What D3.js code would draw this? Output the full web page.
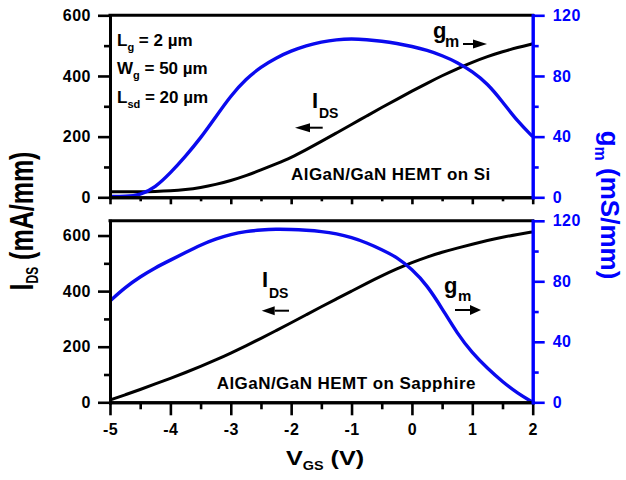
<!DOCTYPE html>
<html>
<head>
<meta charset="utf-8">
<script src="https://cdn.jsdelivr.net/npm/d3@7"></script>
<style>
  body { margin: 0; background: #fff; }
  svg { display: block; font-family: "Liberation Sans", Arial, sans-serif; font-weight: bold; }
</style>
</head>
<body>
<div id="chart"></div>
<script>
// Gate voltage grid shared by all four curves (V)
const vgs = [-5, -4.75, -4.5, -4.25, -4, -3.75, -3.5, -3.25, -3, -2.75, -2.5, -2.25, -2, -1.75, -1.5,
             -1.25, -1, -0.75, -0.5, -0.25, 0, 0.25, 0.5, 0.75, 1, 1.25, 1.5, 1.75, 2];

// AlGaN/GaN HEMT on Si
const siIds = [18, 18, 18, 19, 21, 25, 32, 42, 55, 71, 90, 110, 131, 157, 184,
               212, 240, 268, 296, 323, 350, 376, 401, 424, 445, 464, 480, 494, 506];
const siGm = [0.5, 0.5, 1.5, 6.5, 16, 27, 39, 53, 67, 78, 86, 92, 96.5, 100, 102.5,
              104, 104.5, 104, 103, 101.5, 99.5, 97, 93.5, 89, 83, 75, 63, 50, 40];

// AlGaN/GaN HEMT on Sapphire
const sapIds = [8, 27, 46, 66, 86, 107, 129, 152, 177, 203, 230, 258, 286, 315, 344,
                372, 400, 428, 455, 480, 503, 523, 540, 555, 569, 582, 594, 604, 613];
const sapGm = [67, 76, 83, 89, 94, 99, 104, 108, 111, 113, 114, 114.5, 114.3, 113.8, 113,
               111.5, 109, 105.5, 101, 96, 88, 77.5, 62, 45.5, 32.5, 22.5, 13.5, 6, 0];

const xTicks = [-5, -4, -3, -2, -1, 0, 1, 2];
const xMinor = [-4.5, -3.5, -2.5, -1.5, -0.5, 0.5, 1.5];
const idsTicks = [0, 200, 400, 600];
const idsMinor = [100, 300, 500];
const gmTicks = [0, 40, 80, 120];
const gmMinor = [20, 60, 100];

const width = 626, height = 480;
const blue = "#0000ff", lineBlue = "#0a0aee";

const svg = d3.select("#chart").append("svg")
    .attr("width", width)
    .attr("height", height);

const x = d3.scaleLinear().domain([-5, 2]).range([110, 532.7]);

const panels = [
  { ids: siIds, gm: siGm, y: d3.scaleLinear().domain([0, 600]).range([197.3, 15.3]),
    g: d3.scaleLinear().domain([0, 120]).range([197.3, 15.3]), tick: 7, minor: 4, labels: false },
  { ids: sapIds, gm: sapGm, y: d3.scaleLinear().domain([0, 653]).range([402.3, 220.8]),
    g: d3.scaleLinear().domain([0, 120]).range([402.3, 220.8]), tick: 13, minor: 7, labels: true }
];

function styleAxis(sel, color) {
  sel.select(".domain").attr("stroke", color).attr("stroke-width", 3).attr("stroke-linecap", "square");
  sel.selectAll(".tick line").attr("stroke", color).attr("stroke-width", 2.6);
  sel.selectAll(".tick text").attr("fill", color)
      .attr("font-size", 16).attr("font-weight", "bold")
      .attr("letter-spacing", "0.5px")
      .attr("font-family", "'Liberation Sans', Arial, sans-serif");
}

panels.forEach(p => {
  const [y0, y1] = p.y.range();

  // top frame line
  svg.append("line")
      .attr("x1", x(-5)).attr("x2", x(2))
      .attr("y1", y1).attr("y2", y1)
      .attr("stroke", "#000").attr("stroke-width", 3).attr("stroke-linecap", "square");

  const lineIds = d3.line().x((d, i) => x(vgs[i])).y(d => p.y(d)).curve(d3.curveBasis);
  const lineGm = d3.line().x((d, i) => x(vgs[i])).y(d => p.g(d)).curve(d3.curveBasis);

  svg.append("path").datum(p.ids)
      .attr("fill", "none").attr("stroke", "#000").attr("stroke-width", 3)
      .attr("d", lineIds);
  svg.append("path").datum(p.gm)
      .attr("fill", "none").attr("stroke", lineBlue).attr("stroke-width", 3.4)
      .attr("d", lineGm);

  // bottom axis
  const bx = svg.append("g").attr("transform", `translate(0,${y0})`)
      .call(d3.axisBottom(x).tickValues(xTicks).tickSize(p.tick).tickSizeOuter(0).tickPadding(8)
        .tickFormat(p.labels ? d3.format("d") : ""));
  styleAxis(bx, "#000");
  bx.selectAll(".tick text").text(d => p.labels ? String(d) : "");
  const bxm = svg.append("g").attr("transform", `translate(0,${y0})`)
      .call(d3.axisBottom(x).tickValues(xMinor).tickSize(p.minor).tickSizeOuter(0).tickFormat(""));
  styleAxis(bxm, "#000");

  // left axis
  const ly = svg.append("g").attr("transform", `translate(${x(-5)},0)`)
      .call(d3.axisLeft(p.y).tickValues(idsTicks).tickSize(12).tickSizeOuter(0).tickPadding(7));
  styleAxis(ly, "#000");
  const lym = svg.append("g").attr("transform", `translate(${x(-5)},0)`)
      .call(d3.axisLeft(p.y).tickValues(idsMinor).tickSize(6).tickSizeOuter(0).tickFormat(""));
  styleAxis(lym, "#000");

  // right axis
  const ry = svg.append("g").attr("transform", `translate(${x(2)},0)`)
      .call(d3.axisRight(p.g).tickValues(gmTicks).tickSize(12).tickSizeOuter(0).tickPadding(8));
  styleAxis(ry, blue);
  const rym = svg.append("g").attr("transform", `translate(${x(2)},0)`)
      .call(d3.axisRight(p.g).tickValues(gmMinor).tickSize(6).tickSizeOuter(0).tickFormat(""));
  styleAxis(rym, blue);
});

// axis titles
const yTitle = svg.append("text")
    .attr("transform", "translate(33,221) rotate(-90) scale(1,1.3)")
    .attr("text-anchor", "middle").attr("font-size", 25).attr("fill", "#000");
yTitle.append("tspan").text("I");
yTitle.append("tspan").attr("font-size", 12).attr("dy", 4).text("DS");
yTitle.append("tspan").attr("dy", -4).text(" (mA/mm)");

const gTitle = svg.append("text")
    .attr("transform", "translate(601,205) rotate(90)")
    .attr("text-anchor", "middle").attr("font-size", 26).attr("fill", blue);
gTitle.append("tspan").text("g");
gTitle.append("tspan").attr("font-size", 16).attr("dy", 6).text("m");
gTitle.append("tspan").attr("dy", -6).text(" (mS/mm)");

const xTitle = svg.append("text")
    .attr("transform", "translate(325,465) scale(1.2,1)")
    .attr("text-anchor", "middle").attr("font-size", 21).attr("fill", "#000");
xTitle.append("tspan").text("V");
xTitle.append("tspan").attr("font-size", 12).attr("dy", 5).text("GS");
xTitle.append("tspan").attr("dy", -5).text(" (V)");

// device parameters
const params = [["L", "g", " = 2 µm", 45.7], ["W", "g", " = 50 µm", 74], ["L", "sd", " = 20 µm", 103]];
params.forEach(([a, s, b, yy]) => {
  const t = svg.append("text").attr("x", 117).attr("y", yy).attr("font-size", 17);
  t.append("tspan").text(a);
  t.append("tspan").attr("font-size", 11).attr("dy", 5).text(s);
  t.append("tspan").attr("dy", -5).text(b);
});

svg.append("text").attr("x", 291).attr("y", 180).attr("font-size", 17)
    .attr("letter-spacing", "0.45px").text("AlGaN/GaN HEMT on Si");
svg.append("text").attr("x", 216.7).attr("y", 389.3).attr("font-size", 17)
    .attr("letter-spacing", "0.45px").text("AlGaN/GaN HEMT on Sapphire");

// curve labels with arrows
function label(main, sub, mx, my, sx, sy, subSize) {
  svg.append("text").attr("x", mx).attr("y", my).attr("font-size", 22).text(main);
  svg.append("text").attr("x", sx).attr("y", sy).attr("font-size", subSize).text(sub);
}
function arrow(x1, x2, tipLen, yy, half) {
  const dir = Math.sign(x2 - x1);
  const base = x2 - dir * tipLen;
  svg.append("line").attr("x1", x1).attr("x2", base).attr("y1", yy).attr("y2", yy)
      .attr("stroke", "#000").attr("stroke-width", 2);
  svg.append("path")
      .attr("d", `M${x2},${yy}L${base},${yy - half}L${base},${yy + half}Z`)
      .attr("fill", "#000");
}

label("I", "DS", 312, 108.3, 319, 118.3, 14);
arrow(322.7, 295, 15, 127.7, 4.5);
label("g", "m", 433, 38.3, 445, 46.7, 16);
arrow(463, 487, 14, 44, 4.5);

label("I", "DS", 262, 287.3, 269, 298, 14);
arrow(289, 261.7, 13, 310.7, 4.5);
label("g", "m", 444, 293.3, 458, 300.5, 15);
arrow(455, 481, 11, 310, 5);
</script>
</body>
</html>
